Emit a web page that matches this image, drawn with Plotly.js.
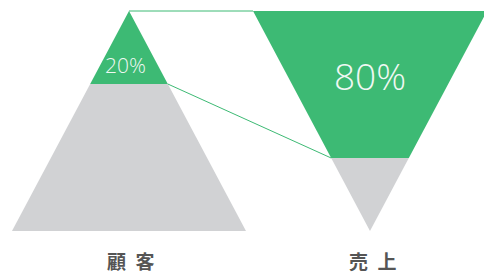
<!DOCTYPE html>
<html><head><meta charset="utf-8">
<script src="https://cdn.plot.ly/plotly-3.0.1.min.js"></script>
<style>html,body{margin:0;padding:0;background:#fff;}#chart{width:484px;height:273px;}</style>
</head><body><div id="chart"></div>
<script>
// Data
var categories = ["顧客", "売上"];
var shares = [20, 80];           // percent shown in the green part
var shareLabels = ["20%", "80%"];

// Geometry (plot units = pixels)
var triH = 220, triTop = 11, halfW = 117, splitDepth = 73;
var leftApexX = 129, rightApexX = 370;
var green = "#3dba74", gray = "#d1d2d4";

function poly(xs, ys, color) {
  return {x: xs.concat([xs[0]]), y: ys.concat([ys[0]]), type: "scatter", mode: "lines",
          fill: "toself", fillcolor: color, line: {width: 0}, hoverinfo: "skip", showlegend: false};
}
var triBase = triTop + triH, splitY = triTop + splitDepth;
var w = halfW * splitDepth / triH;
var traces = [
  poly([leftApexX - w, leftApexX + w, leftApexX + halfW, leftApexX - halfW], [splitY, splitY, triBase, triBase], gray),
  poly([leftApexX, leftApexX + w, leftApexX - w], [triTop, splitY, splitY], green),
  poly([rightApexX - halfW, rightApexX + halfW, rightApexX + w, rightApexX - w], [triTop, triTop, triBase - splitDepth, triBase - splitDepth], green),
  poly([rightApexX - w, rightApexX + w, rightApexX], [triBase - splitDepth, triBase - splitDepth, triBase], gray),
  {x: [leftApexX, rightApexX - halfW], y: [triTop, triTop], type: "scatter", mode: "lines",
   line: {color: green, width: 1}, hoverinfo: "skip", showlegend: false},
  {x: [leftApexX + w, rightApexX - w], y: [splitY, triBase - splitDepth], type: "scatter", mode: "lines",
   line: {color: green, width: 1}, hoverinfo: "skip", showlegend: false}
];

var annotations = [
  {x: 125, y: 65, text: shareLabels[0], showarrow: false, xanchor: "center", yanchor: "middle",
   font: {family: "Open Sans", size: 21, color: "#f0f8f3", weight: 300}},
  {x: 370, y: 75, text: shareLabels[1], showarrow: false, xanchor: "center", yanchor: "middle",
   font: {family: "Open Sans", size: 37, color: "#f0f8f3", weight: 300}},
  {x: 131, y: 260, text: categories[0].split("").join("\u2002"), showarrow: false, xanchor: "center", yanchor: "middle",
   font: {family: "Noto Sans CJK JP", size: 19, color: "#555555", weight: 700}},
  {x: 373, y: 260, text: categories[1].split("").join("\u2002"), showarrow: false, xanchor: "center", yanchor: "middle",
   font: {family: "Noto Sans CJK JP", size: 19, color: "#555555", weight: 700}}
];

var layout = {
  width: 484, height: 273, margin: {l: 0, r: 0, t: 0, b: 0},
  paper_bgcolor: "#fff", plot_bgcolor: "#fff",
  xaxis: {range: [0, 484], visible: false, fixedrange: true},
  yaxis: {range: [273, 0], visible: false, fixedrange: true},
  annotations: annotations, showlegend: false
};
Plotly.newPlot("chart", traces, layout, {staticPlot: true, displayModeBar: false});
</script></body></html>
